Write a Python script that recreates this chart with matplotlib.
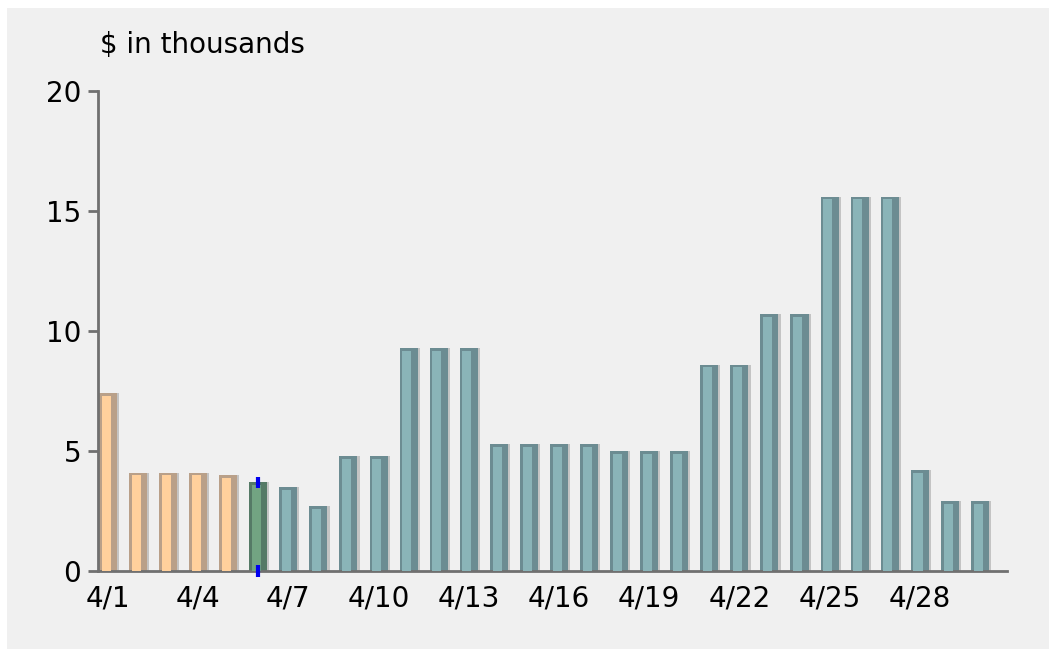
import numpy as np
import matplotlib.pyplot as plt
from matplotlib.patches import Rectangle

# daily values, $ in thousands (4/1 .. 4/30)
days = [f"4/{d}" for d in range(1, 31)]
values = [7.4, 4.1, 4.1, 4.1, 4.0, 3.7, 3.5, 2.7, 4.8, 4.8,
          9.3, 9.3, 9.3, 5.3, 5.3, 5.3, 5.3, 5.0, 5.0, 5.0,
          8.6, 8.6, 10.7, 10.7, 15.6, 15.6, 15.6, 4.2, 2.9, 2.9]
# 'past' = peach, 'today' = green, 'future' = teal
kinds = ['past'] * 5 + ['today'] + ['future'] * 24
today_idx = 5

colors = {
    'past': ('#ffd09c', '#b9a089'),
    'today': ('#72a482', '#557a66'),
    'future': ('#8ab4b8', '#6c8c92'),
}

fig = plt.figure(figsize=(10.49, 6.49), dpi=100)
fig.patch.set_facecolor('#ffffff')
fig.patches.append(Rectangle((7 / 1049, 0), 1, (649 - 8) / 649, transform=fig.transFigure,
                             facecolor='#f0f0f0', edgecolor='none', zorder=-10))

ax = fig.add_axes([98 / 1049, 78 / 649, (1007 - 98) / 1049, (571 - 91) / 649])
ax.set_facecolor('#f0f0f0')

x = np.arange(len(values))
for i, (v, k) in enumerate(zip(values, kinds)):
    light, dark = colors[k]
    # soft shadow on the right
    ax.bar(i + 0.22, v, width=0.3, color='#c4c4c4', zorder=1)
    # dark body, light highlight
    ax.bar(i, v, width=0.6, color=dark, zorder=2)
    ax.bar(i - 0.06, v - 0.12, width=0.3, color=light, zorder=3)

# blue "today" marker
ax.plot([today_idx, today_idx], [values[today_idx] - 0.25, values[today_idx] + 0.2],
        color='#0000ee', lw=3, solid_capstyle='butt', zorder=5)
ax.plot([today_idx, today_idx], [-0.25, 0.25], color='#0000ee', lw=3,
        solid_capstyle='butt', zorder=5, clip_on=False)

ax.set_xlim(-0.33, 29.9)
ax.set_ylim(0, 20)
ax.set_yticks([0, 5, 10, 15, 20])
ax.set_xticks(x[::3])
ax.set_xticklabels(days[::3])

for s in ['top', 'right']:
    ax.spines[s].set_visible(False)
for s in ['left', 'bottom']:
    ax.spines[s].set_color('#707070')
    ax.spines[s].set_linewidth(2)

ax.tick_params(axis='y', length=7, width=2, color='#707070', pad=5, labelsize=20)
ax.tick_params(axis='x', length=0, pad=10, labelsize=20)

fig.text(100 / 1049, (649 - 53) / 649, '$ in thousands', fontsize=20, va='baseline')

fig.savefig('out.png', dpi=100, facecolor=fig.get_facecolor())
